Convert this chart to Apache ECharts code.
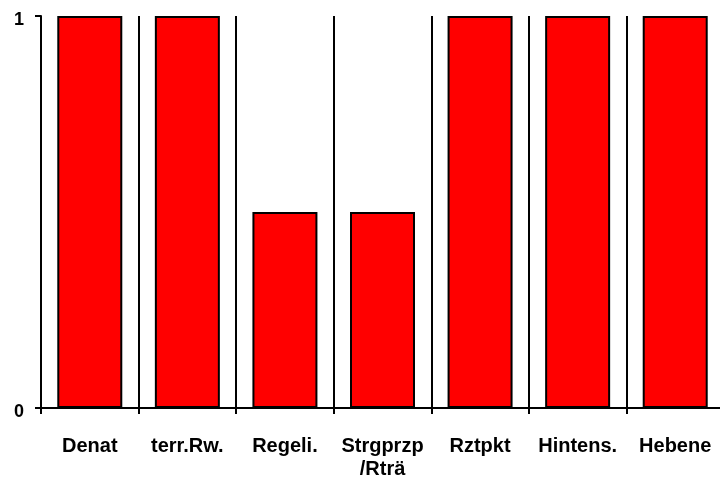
<!DOCTYPE html>
<html><head><meta charset="utf-8">
<script src="https://cdn.jsdelivr.net/npm/echarts@6/dist/echarts.min.js"></script>
<style>html,body{margin:0;padding:0;background:#fff}#c{width:720px;height:486px}</style>
</head><body><div id="c"></div>
<script>
var categories = ['Denat', 'terr.Rw.', 'Regeli.', 'Strgprzp\n/Rträ', 'Rztpkt', 'Hintens.', 'Hebene'];
var values = [1, 1, 0.5, 0.5, 1, 1, 1];
var yTicks = [0, 1];

var chart = echarts.init(document.getElementById('c'));
chart.setOption({
  animation: false,
  grid: { left: 41, top: 16, width: 683, height: 392, outerBoundsMode: 'none', containLabel: false },
  xAxis: {
    type: 'category', data: categories, boundaryGap: true,
    axisLine: { lineStyle: { color: '#000', width: 2 } },
    axisTick: { show: true, alignWithLabel: false, length: 6, lineStyle: { color: '#000', width: 2 } },
    splitLine: { show: true, lineStyle: { color: '#000', width: 2 } },
    axisLabel: { color: '#000', fontFamily: 'Liberation Sans', fontWeight: 'bold', fontSize: 20, margin: 27, lineHeight: 23, interval: 0 }
  },
  yAxis: {
    type: 'value', min: 0, max: 1, interval: 1,
    axisLine: { show: true, lineStyle: { color: '#000', width: 2 } },
    axisTick: { show: true, length: 6, lineStyle: { color: '#000', width: 2 } },
    splitLine: { show: false },
    axisLabel: { color: '#000', fontFamily: 'Liberation Sans', fontWeight: 'bold', fontSize: 18, margin: 17,
      verticalAlign: 'top', lineHeight: 9,
      formatter: function (v) { return yTicks.indexOf(v) >= 0 ? String(v) : ''; } }
  },
  series: [{
    type: 'bar', data: values, barWidth: 65,
    itemStyle: { color: '#ff0000', borderColor: '#000', borderWidth: 2 }
  }]
});
</script></body></html>
